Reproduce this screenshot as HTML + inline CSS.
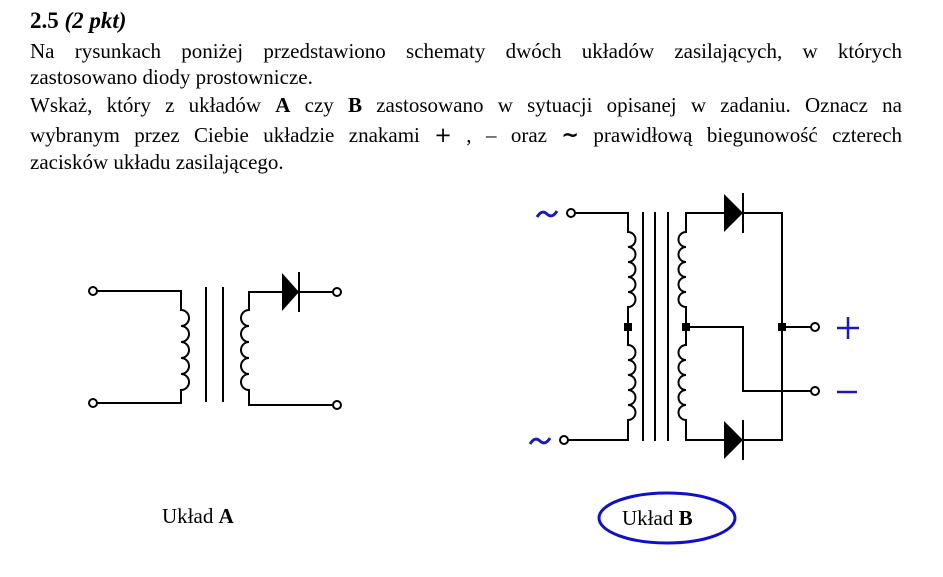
<!DOCTYPE html>
<html><head><meta charset="utf-8"><style>
body{margin:0;width:943px;height:577px;background:#fff;position:relative;overflow:hidden;font-family:"Liberation Serif",serif;color:#000}
.l{position:absolute;left:30px;width:872px;font-size:21px;line-height:24px;white-space:nowrap}
.j{text-align:justify;text-align-last:justify;white-space:normal}
</style></head><body>
<div class="l" style="top:9px;font-weight:bold;font-size:23px">2.5 <i>(2 pkt)</i></div>
<div class="l j" style="top:39px">Na rysunkach poniżej przedstawiono schematy dwóch układów zasilających, w których</div>
<div class="l" style="top:65px">zastosowano diody prostownicze.</div>
<div class="l j" style="top:93px">Wskaż, który z układów <b>A</b> czy <b>B</b> zastosowano w sytuacji opisanej w zadaniu. Oznacz na</div>
<div class="l j" style="top:123px">wybranym przez Ciebie układzie znakami <span style="font-family:'DejaVu Sans'">+</span> , <span>–</span> oraz <span style="font-family:'DejaVu Sans';font-weight:bold">~</span> prawidłową biegunowość czterech</div>
<div class="l" style="top:150px">zacisków układu zasilającego.</div>
<svg width="943" height="577" style="position:absolute;left:0;top:0" fill="none" stroke="#000" stroke-width="2">
<circle cx="93" cy="291" r="4" fill="#fff"/>
<circle cx="93" cy="403" r="4" fill="#fff"/>
<path d="M97 291H181V310 a8 8 0 0 1 0 16 a8 8 0 0 1 0 16 a8 8 0 0 1 0 16 a8 8 0 0 1 0 16 a8 8 0 0 1 0 16 V403H97"/>
<path d="M206 287V402M223 287V402"/>
<path d="M333 292H249V310 a8 8 0 0 0 0 16 a8 8 0 0 0 0 16 a8 8 0 0 0 0 16 a8 8 0 0 0 0 16 a8 8 0 0 0 0 16 V405H333"/>
<circle cx="337" cy="292" r="4" fill="#fff"/>
<circle cx="337" cy="405" r="4" fill="#fff"/>
<polygon points="282,273 299,292 282,311" fill="#000" stroke="none"/>
<path d="M299 272V312"/>
<circle cx="571" cy="213" r="4" fill="#fff"/>
<circle cx="564" cy="440" r="4" fill="#fff"/>
<path d="M575 213H628V232 a7.5 7.5 0 0 1 0 15 a7.5 7.5 0 0 1 0 15 a7.5 7.5 0 0 1 0 15 a7.5 7.5 0 0 1 0 15 a7.5 7.5 0 0 1 0 15 V345 a7.5 7.5 0 0 1 0 15 a7.5 7.5 0 0 1 0 15 a7.5 7.5 0 0 1 0 15 a7.5 7.5 0 0 1 0 15 a7.5 7.5 0 0 1 0 15 V440H568"/>
<path d="M643 212V441M655 212V441M668 212V441"/>
<path d="M724 213H686V232 a7.5 7.5 0 0 0 0 15 a7.5 7.5 0 0 0 0 15 a7.5 7.5 0 0 0 0 15 a7.5 7.5 0 0 0 0 15 a7.5 7.5 0 0 0 0 15 V345 a7.5 7.5 0 0 0 0 15 a7.5 7.5 0 0 0 0 15 a7.5 7.5 0 0 0 0 15 a7.5 7.5 0 0 0 0 15 a7.5 7.5 0 0 0 0 15 V440H724"/>
<path d="M743 213H782V440H743"/>
<polygon points="724,194 743,213 724,232" fill="#000" stroke="none"/>
<path d="M743 193V233"/>
<polygon points="724,421 743,440 724,459" fill="#000" stroke="none"/>
<path d="M743 420V460"/>
<path d="M686 327H743V391H811M782 327H811"/>
<circle cx="815" cy="327" r="4" fill="#fff"/>
<circle cx="815" cy="391" r="4" fill="#fff"/>
<rect x="624" y="323" width="8" height="8" fill="#000" stroke="none"/>
<rect x="682" y="323" width="8" height="8" fill="#000" stroke="none"/>
<rect x="778" y="323" width="8" height="8" fill="#000" stroke="none"/>
<path d="M837 328H859M848 317V339M837 392H857" stroke="#1a1ab8" stroke-width="2.5"/>
<path d="M537 217 q5 -8 10 -3 q5 5 10 -3" stroke="#1a1ab8" stroke-width="3"/>
<path d="M530 444 q5 -8 10 -3 q5 5 10 -3" stroke="#1a1ab8" stroke-width="3"/>
<ellipse cx="667" cy="518" rx="68" ry="25" stroke="#1010c8" stroke-width="3"/>
</svg>
<div style="position:absolute;left:162px;top:504px;font-size:21px">Układ <b>A</b></div>
<div style="position:absolute;left:622px;top:506px;font-size:21px">Układ <b>B</b></div>
</body></html>
